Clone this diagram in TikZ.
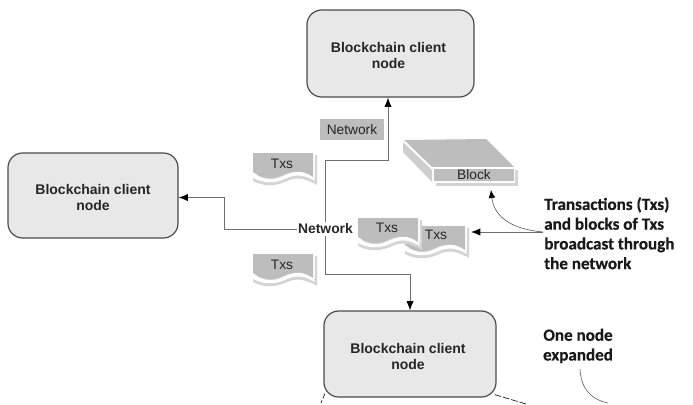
\documentclass[tikz,border=0pt]{standalone}
\usepackage{fontspec}
\setmainfont{Liberation Sans}
\newfontfamily\callfont[BoldFeatures={FakeBold=0.5}]{Carlito}
\usetikzlibrary{arrows.meta}
\definecolor{boxfill}{HTML}{E8E8E9}
\definecolor{boxline}{HTML}{4A4A4C}
\definecolor{docgray}{HTML}{BDBDBD}
\definecolor{shadegray}{HTML}{D4D4D4}
\definecolor{wire}{HTML}{6E6E70}
\newcommand{\clienttext}[2]{\hspace*{#2}\raisebox{#1}[0pt][0pt]{\begin{tabular}{@{}c@{}}Blockchain client\\node\end{tabular}}}
\tikzset{
  x=0.75pt,y=-0.75pt,
  client/.style={draw=boxline,line width=0.9pt,fill=boxfill,rounded corners=11pt,minimum width=#1,align=center,inner sep=0pt,font=\fontsize{10.5pt}{12pt}\selectfont\bfseries,text=black!85},
  conn/.style={draw=wire,line width=0.7pt,-{Latex[length=7pt,width=5.5pt,black]}},
  thin call/.style={draw=black!65,line width=0.45pt},
  callout/.style={font=\callfont\fontsize{12.8pt}{14.8pt}\selectfont\bfseries,align=left,inner sep=0pt,text=black!90},
  doclabel/.style={font=\fontsize{10.3pt}{11pt}\selectfont,inner sep=0pt,text=black!85},
  txdoc/.pic={
    \fill[shadegray] (4,2) -- (64,2) -- (64,32) .. controls (50,24) and (42,24) .. (32,29) .. controls (20,34) and (10,33) .. (0,28) -- (0,24) -- (4,24) -- cycle;
    \fill[white] (0,20) .. controls (10,27) and (20,28) .. (30,23) .. controls (42,17) and (50,18) .. (60,23) -- (62,28) .. controls (50,21) and (42,21) .. (32,26) .. controls (20,31) and (10,30) .. (0,25) -- cycle;
    \fill[white] (60,0) rectangle (62,25);
    \fill[docgray] (0,0) -- (60,0) -- (60,24) .. controls (50,17) and (42,17) .. (30,22) .. controls (20,27) and (10,26) .. (0,19) -- cycle;
  }
}
\begin{document}
\begin{tikzpicture}
\useasboundingbox (0,0) rectangle (693,404);
% client nodes
\node[client=125.25pt,minimum height=65.25pt] (top) at (390.5,53.5) {\clienttext{-5.6pt}{-3pt}};
\node[client=127.5pt,minimum height=63.75pt] (left) at (93,195.5) {\clienttext{-5.6pt}{0pt}};
\node[client=129pt,minimum height=64.5pt] (bottom) at (410,354) {\clienttext{-5.6pt}{-3pt}};
% expanded node hints
\coordinate (dl) at (321,403);
\coordinate (dr) at (526,404);
\draw[draw=black!85,line width=0.55pt,dash pattern=on 4pt off 1.5pt] (bottom.south west)++(1.5,-4) -- (dl);
\draw[draw=black!85,line width=0.55pt,dash pattern=on 5pt off 1.5pt] (bottom.south east)++(-2,-3) -- (dr);
% network
\node[font=\fontsize{10.4pt}{11pt}\selectfont\bfseries,inner sep=1pt,text=black!85] (net) at (325.5,229) {Network};
\coordinate (c1) at (388,160);
\coordinate (c2) at (224,197.5);
\coordinate (c3) at (410,274);
\draw[conn] (net.north) |- (c1) -- (c1 |- top.south);
\draw[conn] (net.west) -| (c2) -- (left.east |- c2);
\draw[conn] (net.south) |- (c3) -- (c3 |- bottom.north);
% network tag
\node[fill=docgray,minimum width=48pt,minimum height=15.75pt,inner sep=0pt,doclabel] (tag) at (352,129.5) {Network};
% Txs documents
\pic at (253,153) {txdoc};
\node[doclabel] (tx1) at (282,164) {Txs};
\pic at (253,254) {txdoc};
\node[doclabel] (tx2) at (282,265) {Txs};
\pic at (405,226) {txdoc};
\node[doclabel] (tx4) at (436,235) {Txs};
\pic at (358,218) {txdoc};
\node[doclabel] (tx3) at (387,228) {Txs};
% block
\fill[shadegray] (436,170) -- (518,170) -- (518,186) -- (436,186) -- cycle;
\fill[docgray] (404,140) -- (486,139) -- (514,167) -- (432,167) -- cycle;
\fill[docgray!75!white] (403,142) -- (432,170) -- (432,182) -- (403,152) -- cycle;
\draw[white,line width=0.7pt] (404,141) -- (432,168);
\node[fill=docgray,draw=white,line width=1pt,minimum width=61pt,minimum height=10.5pt,inner sep=0pt,doclabel] (block) at (474,175) {Block};
% callouts
\node[callout,anchor=north west] (call) at (544,197) {Transactions (Txs)\\and blocks of Txs\\broadcast through\\the network};
\node[callout,anchor=north,align=center] (one) at (578,328.5) {One node\\expanded};
\coordinate (end) at (608,403);
\coordinate (j) at (543,232);
\draw[conn] (j) -- (471,232);
\draw[thin call,-{Latex[length=6pt,width=5pt,black]}] (j) .. controls (510,229) and (494,216) .. (491,190);
\draw[thin call] (580,369) .. controls (581,388) and (590,399) .. (end);
\end{tikzpicture}
\end{document}
